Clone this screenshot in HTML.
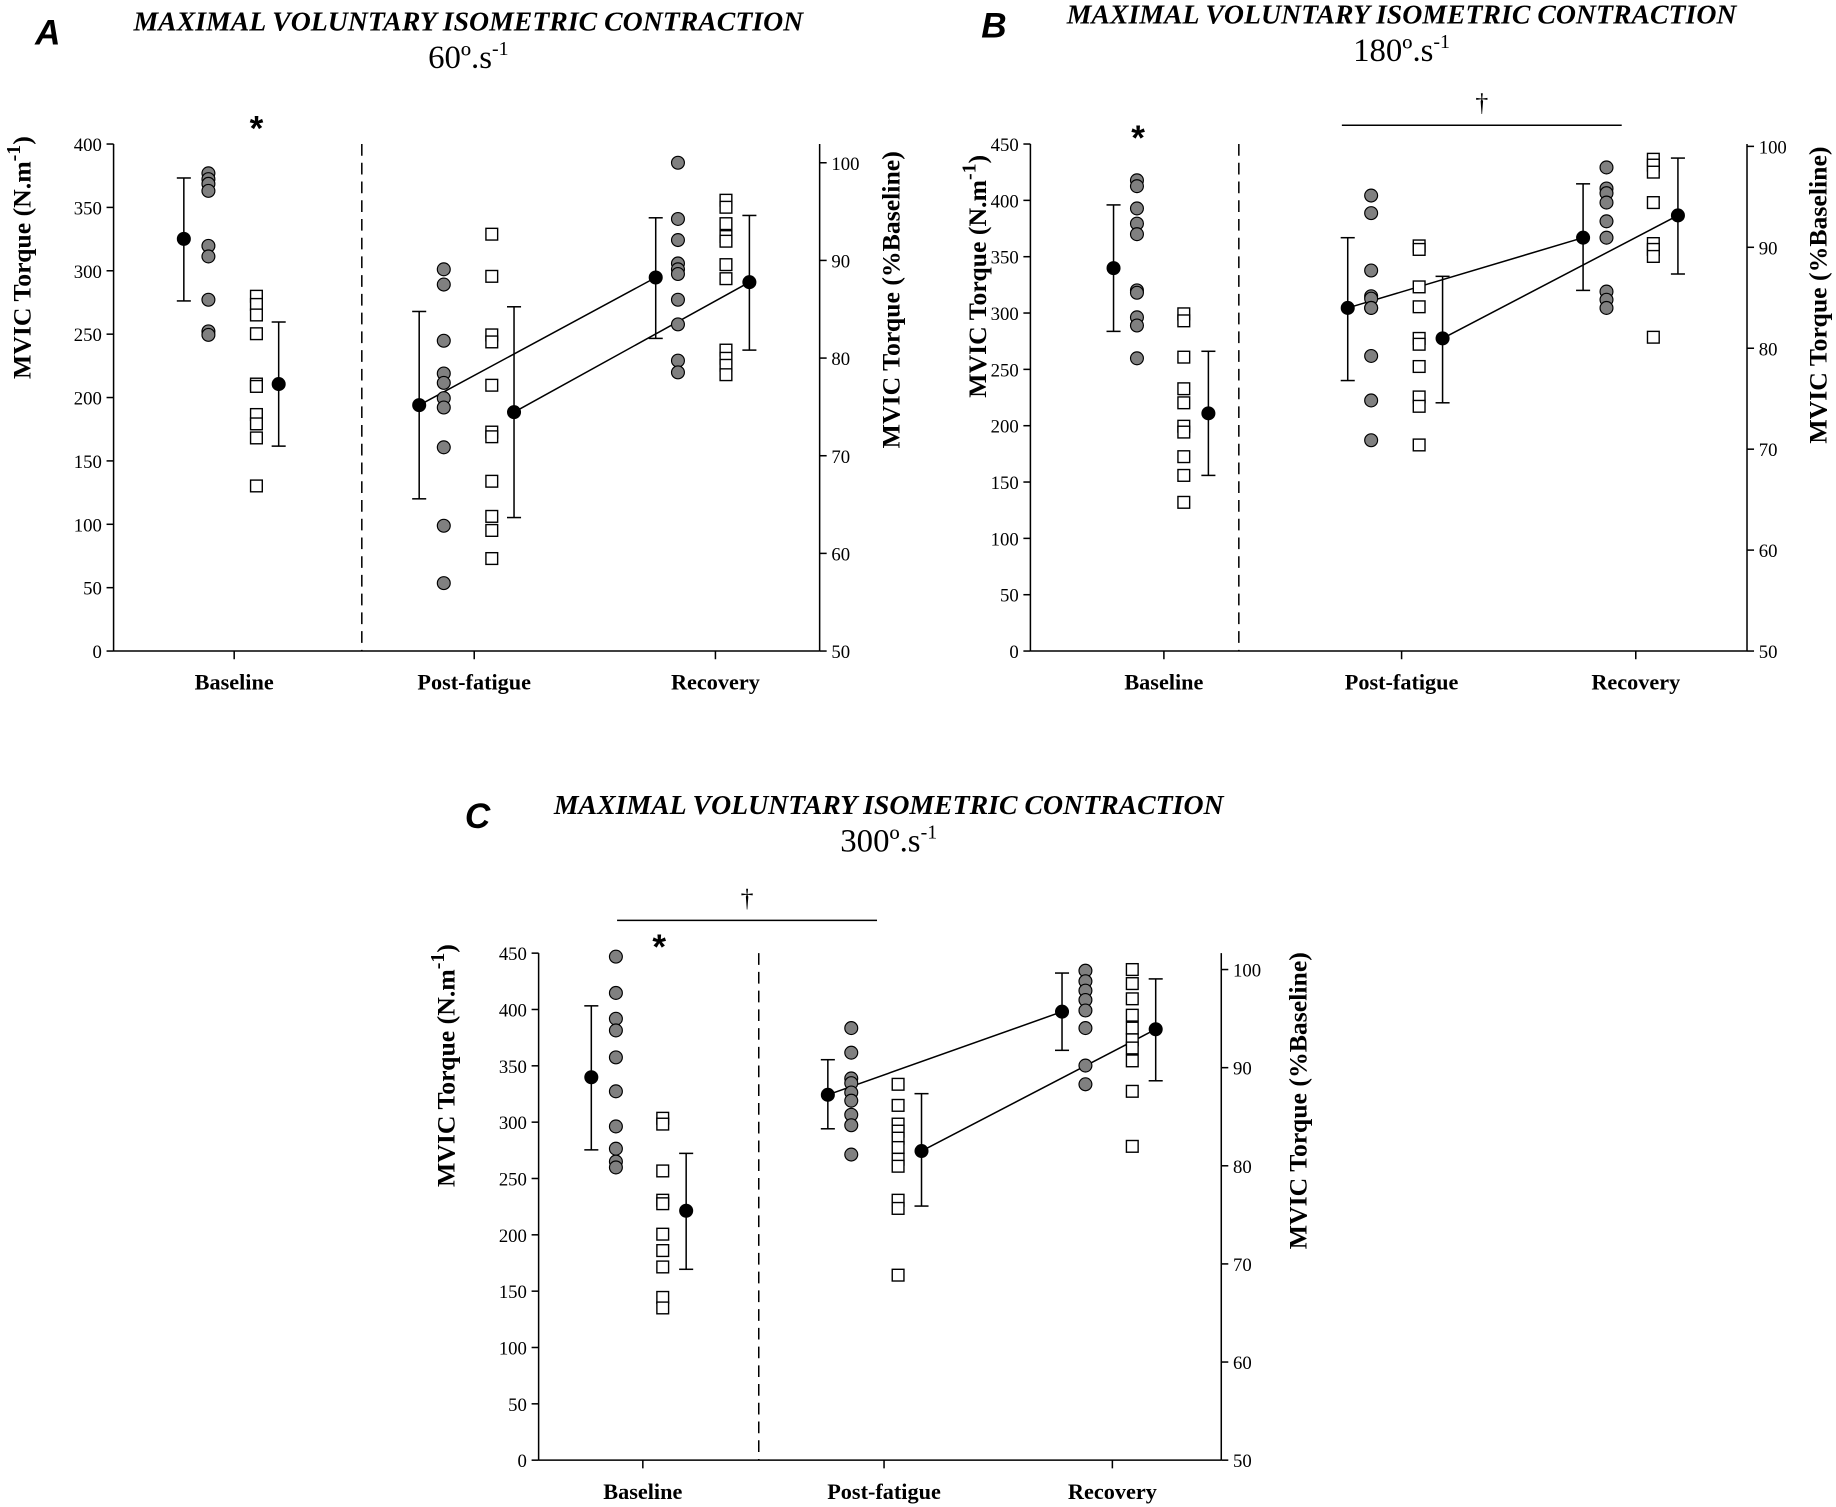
<!DOCTYPE html>
<html><head><meta charset="utf-8"><style>
html,body{margin:0;padding:0;background:#fff}
svg{display:block}
text{font-family:"Liberation Serif",serif}
</style></head><body>
<svg id="s" width="1836" height="1507" viewBox="0 0 1568 1287" preserveAspectRatio="none" xmlns="http://www.w3.org/2000/svg">
<g id="g"></g>
</svg>
<script>
var g=document.getElementById('g'),h='';
function L(x1,y1,x2,y2,extra){h+='<line x1="'+x1+'" y1="'+y1+'" x2="'+x2+'" y2="'+y2+'" stroke="#000" stroke-width="1.3" '+(extra||'')+'/>';}
function T(x,y,s,attrs){h+='<text x="'+x+'" y="'+y+'" '+attrs+'>'+s+'</text>';}
function C(x,y,f,r){h+='<circle cx="'+x+'" cy="'+y+'" r="'+r+'" fill="'+f+'" stroke="#000" stroke-width="1"/>';}
function S(x,y){h+='<rect x="'+(x-5)+'" y="'+(y-5)+'" width="10" height="10" fill="#fff" stroke="#000" stroke-width="1.2"/>';}
function panel(p){
 L(p.lx,p.top,p.lx,p.bot);L(p.lx,p.bot,p.rx,p.bot);L(p.rx,p.top,p.rx,p.bot);
 var n=p.lmax/50;
 for(var i=0;i<=n;i++){var y=p.bot-(p.bot-p.top)*i/n;L(p.lx-6,y,p.lx,y);T(p.lx-10,y+6,i*50,'font-size="16" text-anchor="end"');}
 for(var j=0;j<=5;j++){var y=p.bot-(p.bot-p.r100)*j/5;L(p.rx,y,p.rx+6,y);T(p.rx+10,y+6,50+j*10,'font-size="16"');}
 L(p.dash,p.top,p.dash,p.bot,'stroke-dasharray="10,6"');
 p.lab.forEach(function(l){L(l[0],p.bot,l[0],p.bot+7);T(l[0],p.bot+33,l[1],'font-size="19" font-weight="bold" text-anchor="middle"');});
 var cy=p.cyl, cr=p.cyr;
 T(p.yl,cy,'MVIC Torque (N.m<tspan font-size="17" dy="-9">-1</tspan><tspan dy="9">)</tspan>','font-size="22" font-weight="bold" text-anchor="middle" transform="rotate(-90 '+p.yl+' '+cy+')"');
 T(p.yr,cr,'MVIC Torque (%Baseline)','font-size="22" font-weight="bold" text-anchor="middle" transform="rotate(-90 '+p.yr+' '+cr+')"');
 T(p.tx,p.ty,'MAXIMAL VOLUNTARY ISOMETRIC CONTRACTION','font-size="23.5" font-weight="bold" font-style="italic" text-anchor="middle" textLength="572" lengthAdjust="spacingAndGlyphs"');
 T(p.tx,p.ty+32,p.sp+'º.s<tspan font-size="17" dy="-11">-1</tspan>','font-size="28" text-anchor="middle"');
 T(p.letx,p.ty+12,p.let,'font-size="30" font-weight="bold" font-style="italic" style="font-family:Liberation Sans,sans-serif"');
 T(p.star[0],p.star[1]+12,'*','font-size="30" font-weight="bold" text-anchor="middle" style="font-family:Liberation Sans,sans-serif"');
 if(p.dag){L(p.dag[0],p.dag[2],p.dag[1],p.dag[2]);T((p.dag[0]+p.dag[1])/2,p.dag[2]-12,'†','font-size="22" text-anchor="middle"');}
 p.lines.forEach(function(l){L(l[0],l[1],l[2],l[3]);});
 p.groups.forEach(function(gr){
  var m=gr.m;L(m[0],m[2],m[0],m[3]);L(m[0]-6,m[2],m[0]+6,m[2]);L(m[0]-6,m[3],m[0]+6,m[3]);C(m[0],m[1],'#000',5.5);
  gr.c[1].forEach(function(y){C(gr.c[0],y,'#808080',5.5);});
  var m2=gr.m2;L(m2[0],m2[2],m2[0],m2[3]);L(m2[0]-6,m2[2],m2[0]+6,m2[2]);L(m2[0]-6,m2[3],m2[0]+6,m2[3]);C(m2[0],m2[1],'#000',5.5);
  gr.s[1].forEach(function(y){S(gr.s[0],y);});
 });
}
panel({lx:97,rx:700,top:123,bot:556,r100:139,lmax:400,dash:309,lab:[[200,'Baseline'],[405,'Post-fatigue'],[611,'Recovery']],
 yl:26,yr:768,cyl:220,cyr:256,tx:400,ty:26,sp:'60',letx:30,let:'A',star:[219,108],
 lines:[[358,346,560,237],[439,352,640,241]],
 groups:[{m:[157,204,152,257],c:[178,[148,153,157,163,210,219,256,283,286]],s:[219,[253,260,269,285,328,330,354,362,374,415]],m2:[238,328,275,381]},
 {m:[358,346,266,426],c:[379,[230,243,291,319,327,340,348,382,449,498]],s:[420,[200,236,286,292,329,369,373,411,441,453,477]],m2:[439,352,262,442]},
 {m:[560,237,186,289],c:[579,[139,187,205,225,230,234,256,277,308,318]],s:[620,[171,177,191,202,206,226,238,299,306,312,320]],m2:[640,241,184,299]}]});
panel({lx:880,rx:1492,top:123,bot:556,r100:125,lmax:450,dash:1058,lab:[[994,'Baseline'],[1197,'Post-fatigue'],[1397,'Recovery']],
 yl:842,yr:1560,cyl:236,cyr:252,tx:1197,ty:20,sp:'180',letx:838,let:'B',star:[972,116],dag:[1146,1385,107],
 lines:[[1151,263,1352,203],[1232,289,1433,184]],
 groups:[{m:[951,229,175,283],c:[971,[154,159,178,191,200,248,250,271,278,306]],s:[1011,[268,274,305,332,344,364,369,390,406,429]],m2:[1032,353,300,406]},
 {m:[1151,263,203,325],c:[1171,[167,182,231,253,255,263,263,304,342,376]],s:[1212,[210,213,245,262,289,294,313,339,347,380]],m2:[1232,289,236,344]},
 {m:[1352,203,157,248],c:[1372,[143,161,165,173,189,203,249,256,263]],s:[1412,[136,141,147,173,208,213,219,288]],m2:[1433,184,135,234]}]});
panel({lx:460,rx:1043,top:814,bot:1247,r100:828,lmax:450,dash:648,lab:[[549,'Baseline'],[755,'Post-fatigue'],[950,'Recovery']],
 yl:388,yr:1116,cyl:910,cyr:940,tx:759,ty:695,sp:'300',letx:397,let:'C',star:[563,807],dag:[527,749,786],
 lines:[[707,935,907,864],[787,983,987,879]],
 groups:[{m:[505,920,859,982],c:[526,[817,848,870,880,903,932,962,981,992,997]],s:[566,[955,960,1000,1025,1028,1054,1068,1082,1108,1117]],m2:[586,1034,985,1084]},
 {m:[707,935,905,964],c:[727,[878,899,921,925,933,940,952,961,986]],s:[767,[926,944,960,966,972,980,990,996,1025,1032,1089]],m2:[787,983,934,1030]},
 {m:[907,864,831,897],c:[927,[829,838,846,854,863,878,910,926]],s:[967,[828,840,853,867,878,888,895,906,932,979]],m2:[987,879,836,923]}]});
g.innerHTML=h;
</script>
</body></html>
